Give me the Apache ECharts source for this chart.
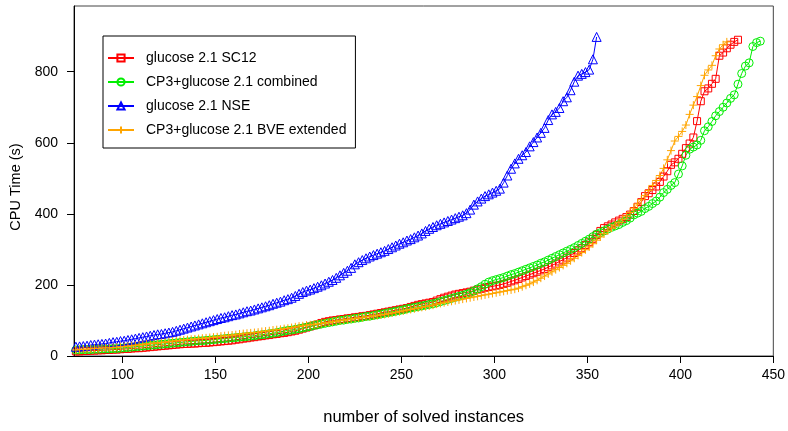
<!DOCTYPE html>
<html>
<head>
<meta charset="utf-8">
<script src="https://cdn.jsdelivr.net/npm/echarts@6/dist/echarts.min.js"></script>
<style>
  html, body { margin: 0; padding: 0; background: #fff; }
  #main { width: 788px; height: 431px; }
</style>
</head>
<body>
<div id="main"></div>
<script>
// solved instances start at 75 and are sampled every 2 instances
var startX = 75;
var stepX = 2;

var seriesNames = ['glucose 2.1 SC12', 'CP3+glucose 2.1 combined', 'glucose 2.1 NSE', 'CP3+glucose 2.1 BVE extended'];

var sc12 = [
  13, 13, 14, 14, 15, 15, 16, 16, 17, 17,
  18, 18, 19, 20, 20, 21, 22, 22, 23, 24,
  25, 26, 27, 28, 29, 30, 31, 32, 33, 34,
  34, 35, 35, 36, 37, 37, 38, 39, 40, 41,
  42, 43, 44, 46, 47, 49, 50, 52, 53, 55,
  56, 58, 59, 61, 62, 64, 65, 67, 69, 71,
  74, 77, 80, 83, 86, 89, 93, 96, 98, 100,
  101, 103, 104, 106, 107, 109, 110, 112, 113, 115,
  117, 119, 121, 123, 125, 127, 129, 131, 133, 135,
  138, 141, 144, 146, 148, 150, 152, 156, 160, 164,
  167, 170, 173, 175, 177, 179, 181, 184, 187, 189,
  192, 194, 196, 198, 200, 203, 206, 210, 213, 217,
  221, 225, 229, 233, 237, 241, 245, 250, 255, 260,
  266, 271, 277, 283, 290, 297, 303, 312, 320, 330,
  341, 352, 360, 365, 370, 376, 381, 386, 391, 398,
  408, 420, 433, 450, 458, 467, 477, 490, 505, 520,
  538, 545, 555, 569, 585, 598, 615, 661, 717, 745,
  753, 766, 780, 845, 854, 866, 876, 884, 890
];

var combined = [
  17, 17, 18, 18, 18, 19, 19, 20, 20, 20,
  21, 21, 22, 23, 24, 25, 26, 27, 28, 29,
  30, 31, 32, 33, 34, 35, 36, 37, 38, 39,
  40, 41, 42, 43, 43, 44, 45, 46, 47, 48,
  49, 50, 51, 52, 53, 54, 55, 56, 57, 59,
  60, 61, 63, 64, 66, 68, 70, 72, 73, 75,
  77, 79, 81, 83, 86, 88, 90, 92, 94, 96,
  98, 100, 101, 103, 104, 106, 107, 109, 111, 112,
  114, 116, 118, 120, 122, 124, 126, 128, 130, 133,
  135, 137, 139, 141, 143, 145, 147, 150, 153, 156,
  159, 162, 165, 168, 171, 174, 178, 183, 189, 195,
  202, 208, 212, 215, 218, 221, 225, 229, 232, 236,
  240, 244, 248, 252, 256, 261, 265, 270, 275, 280,
  285, 290, 295, 300, 305, 311, 317, 323, 329, 336,
  343, 347, 352, 357, 362, 366, 370, 376, 381, 388,
  397, 402, 407, 415, 421, 429, 436, 447, 460, 469,
  480, 488, 512, 535, 565, 582, 588, 594, 607, 634,
  645, 660, 676, 688, 700, 712, 725, 735, 765, 795,
  816, 825, 871, 882, 886
];

var nse = [
  26, 27, 28, 29, 31, 32, 33, 34, 35, 37,
  39, 40, 42, 43, 45, 47, 49, 51, 53, 55,
  57, 59, 61, 62, 64, 66, 68, 71, 74, 77,
  80, 83, 86, 89, 92, 95, 98, 101, 104, 107,
  109, 112, 115, 117, 120, 123, 126, 128, 131, 134,
  137, 140, 143, 147, 150, 153, 157, 160, 164, 169,
  175, 180, 184, 187, 191, 195, 199, 204, 209, 214,
  220, 227, 234, 240, 248, 258, 264, 270, 275, 280,
  284, 288, 292, 296, 301, 306, 311, 316, 320, 325,
  329, 334, 339, 345, 352, 358, 363, 368, 372, 376,
  380, 384, 388, 392, 396, 402, 412, 426, 435, 443,
  450, 455, 460, 465, 471, 488, 508, 527, 542, 555,
  565, 574, 590, 602, 615, 628, 642, 664, 680, 687,
  698, 717, 728, 748, 772, 789, 794, 799, 806, 835,
  898
];

var bveExtended = [
  17, 18, 19, 19, 20, 21, 21, 22, 23, 23,
  24, 25, 26, 27, 28, 29, 30, 31, 32, 34,
  35, 36, 37, 38, 39, 41, 42, 43, 44, 45,
  46, 47, 48, 49, 50, 51, 52, 53, 54, 56,
  57, 58, 59, 60, 62, 63, 64, 65, 66, 67,
  69, 70, 71, 73, 74, 75, 77, 78, 80, 82,
  84, 85, 87, 88, 89, 90, 92, 93, 94, 96,
  98, 99, 101, 102, 104, 105, 107, 108, 110, 111,
  113, 114, 116, 117, 119, 121, 123, 125, 127, 129,
  131, 133, 135, 137, 139, 141, 143, 146, 148, 150,
  152, 154, 156, 158, 160, 162, 164, 166, 168, 170,
  172, 174, 176, 178, 180, 182, 184, 186, 188, 191,
  195, 199, 203, 208, 213, 219, 225, 231, 237, 243,
  249, 255, 261, 268, 275, 283, 291, 299, 307, 316,
  326, 335, 344, 352, 360, 368, 376, 385, 394, 404,
  416, 428, 440, 452, 466, 480, 494, 508, 528, 552,
  578, 605, 618, 632, 650, 680, 706, 730, 761, 790,
  805, 818, 845, 864, 876, 884
];

var xTicks = [100, 150, 200, 250, 300, 350, 400, 450];
var yTicks = [0, 200, 400, 600, 800];

var colors = ['#ff0000', '#00ee00', '#0000ff', '#ffa500'];
var symbols = ['rect', 'circle', 'triangle', 'path://M0,5L10,5M5,0L5,10'];
var symbolSizes = [7, 8, 9, 8];
var seriesValues = [sc12, combined, nse, bveExtended];

function toPoints(values) {
  return values.map(function (v, i) { return [startX + i * stepX, v]; });
}

var font = "'Liberation Sans', Arial, sans-serif";

var chart = echarts.init(document.getElementById('main'), null, { renderer: 'canvas' });

var series = seriesNames.map(function (name, i) {
  return {
    name: name,
    type: 'line',
    data: toPoints(seriesValues[i]),
    symbol: symbols[i],
    symbolSize: symbolSizes[i],
    showAllSymbol: true,
    lineStyle: { color: colors[i], width: 1 },
    itemStyle: { color: 'rgba(255,255,255,0)', borderColor: colors[i], borderWidth: 1 },
    emphasis: { disabled: true },
    animation: false
  };
});

var option = {
  backgroundColor: '#fff',
  animation: false,
  grid: {
    left: 74, right: 14, top: 6, bottom: 67,
    show: true, borderColor: '#444', borderWidth: 1
  },
  legend: {
    orient: 'vertical',
    left: 103, top: 36,
    padding: [15, 9, 11, 4],
    itemWidth: 26, itemHeight: 9, itemGap: 10,
    borderColor: '#000', borderWidth: 1,
    backgroundColor: '#fff',
    data: seriesNames,
    textStyle: { fontFamily: font, fontSize: 14, color: '#000', padding: [0, 0, 0, 7] }
  },
  xAxis: {
    type: 'value',
    min: 74, max: 450,
    name: 'number of solved instances',
    nameLocation: 'middle',
    nameGap: 53,
    nameTextStyle: { fontFamily: font, fontSize: 16.5, color: '#000' },
    axisLine: { show: true, onZero: false, lineStyle: { color: '#000', width: 1 } },
    axisTick: { show: true, length: 7, customValues: xTicks, lineStyle: { color: '#000' } },
    axisLabel: { customValues: xTicks, margin: 12, fontFamily: font, fontSize: 14, color: '#000' },
    splitLine: { show: false }
  },
  yAxis: {
    type: 'value',
    min: 0, max: 985,
    name: 'CPU Time (s)',
    nameLocation: 'middle',
    nameGap: 50,
    nameTextStyle: { fontFamily: font, fontSize: 14.5, color: '#000', padding: [0, 12, 0, 0] },
    axisLine: { show: true, lineStyle: { color: '#000', width: 1 } },
    axisTick: { show: true, length: 7, customValues: yTicks, lineStyle: { color: '#000' } },
    axisLabel: { customValues: yTicks, margin: 16, fontFamily: font, fontSize: 14, color: '#000' },
    splitLine: { show: false }
  },
  series: series
};

chart.setOption(option);
</script>
</body>
</html>
